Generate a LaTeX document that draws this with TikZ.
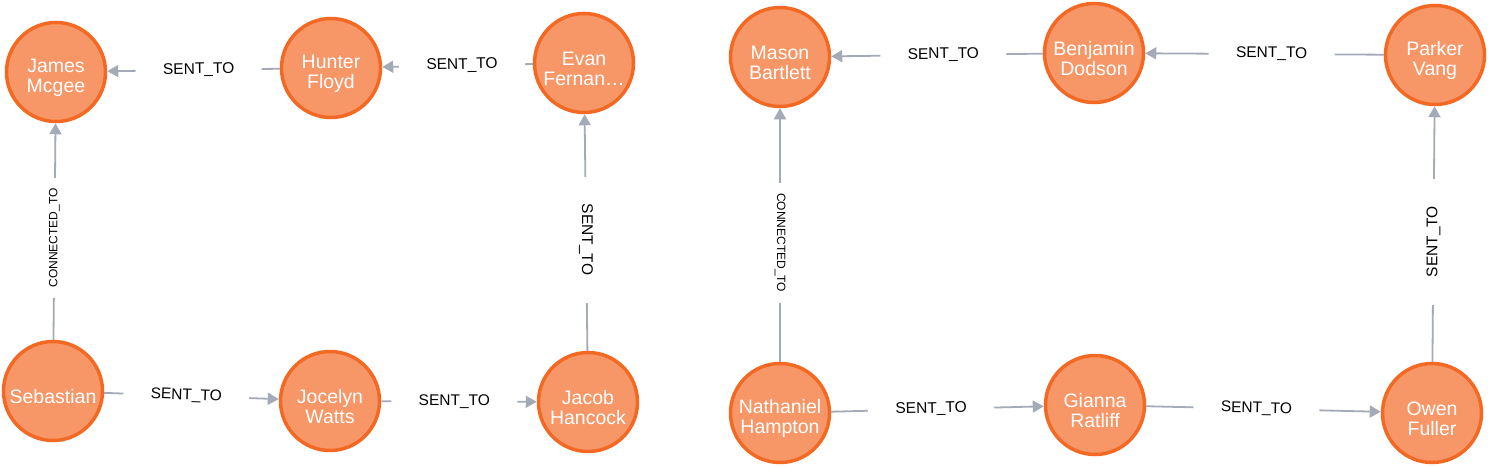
\documentclass[tikz,border=0pt]{standalone}
\usepackage{fontspec}
\setmainfont{Liberation Sans}
\usetikzlibrary{arrows.meta}
\definecolor{nodefill}{HTML}{F79767}
\definecolor{nodeline}{HTML}{F36924}
\definecolor{edgegray}{HTML}{A5ABB6}
\newcommand{\pn}[1]{\rule{0pt}{25pt}#1}
\begin{document}
\begin{tikzpicture}[x=1pt, y=-1pt,
  person/.style={circle, fill=nodefill, draw=nodeline, line width=3.5pt, minimum size=99pt, inner sep=0pt, align=center, text=white, font=\fontsize{19.5}{20}\selectfont},
  rel/.style={-{Triangle[length=11pt,width=12pt]}, edgegray, line width=1.8pt},
  lbl/.style={fill=white, text=black, inner sep=0pt, minimum width=126pt, minimum height=6pt, pos=0.47, font=\fontsize{15.5}{16}\selectfont},
  small/.style={minimum width=120pt, font=\fontsize{12}{12}\selectfont}]
\useasboundingbox (0,0) rectangle (1490,466);
\node[person] (james) at (56,72) {\pn{James}\\Mcgee};
  \node[person] (hunter) at (331,68) {\pn{Hunter}\\Floyd};
  \node[person] (evan) at (584,63) {\pn{Evan}\\Fernan…};
    \node[person] (sebastian) at (53,391) {\pn{Sebastian}};
    \node[person] (jocelyn) at (330,401) {\pn{Jocelyn}\\Watts};
    \node[person] (jacob) at (588,402) {\pn{Jacob}\\Hancock};
  \node[person] (mason) at (780,57) {\pn{Mason}\\Bartlett};
  \node[person] (benjamin) at (1094,53) {\pn{Benjamin}\\Dodson};
  \node[person] (parker) at (1435,55) {\pn{Parker}\\Vang};
    \node[person] (nathaniel) at (780,413) {\pn{Nathaniel}\\Hampton};
    \node[person] (gianna) at (1095,405) {\pn{Gianna}\\Ratliff};
    \node[person] (owen) at (1432,413) {\pn{Owen}\\Fuller};
   \draw[rel] (hunter) -- node[lbl, sloped] {SENT\_TO} (james);
   \draw[rel] (evan) -- node[lbl, sloped] {SENT\_TO} (hunter);
   \draw[rel] (sebastian) -- node[lbl, small, rotate=90] {CONNECTED\_TO} (james);
   \draw[rel] (sebastian) -- node[lbl, sloped] {SENT\_TO} (jocelyn);
   \draw[rel] (jocelyn) -- node[lbl, sloped] {SENT\_TO} (jacob);
   \draw[rel] (jacob) -- node[lbl, rotate=-90] {SENT\_TO} (evan);
  \draw[rel] (benjamin) -- node[lbl, sloped] {SENT\_TO} (mason);
  \draw[rel] (parker) -- node[lbl, sloped] {SENT\_TO} (benjamin);
  \draw[rel] (nathaniel) -- node[lbl, small, rotate=-90] {CONNECTED\_TO} (mason);
  \draw[rel] (nathaniel) -- node[lbl, sloped] {SENT\_TO} (gianna);
  \draw[rel] (gianna) -- node[lbl, sloped] {SENT\_TO} (owen);
  \draw[rel] (owen) -- node[lbl, rotate=90] {SENT\_TO} (parker);
\end{tikzpicture}
\end{document}
